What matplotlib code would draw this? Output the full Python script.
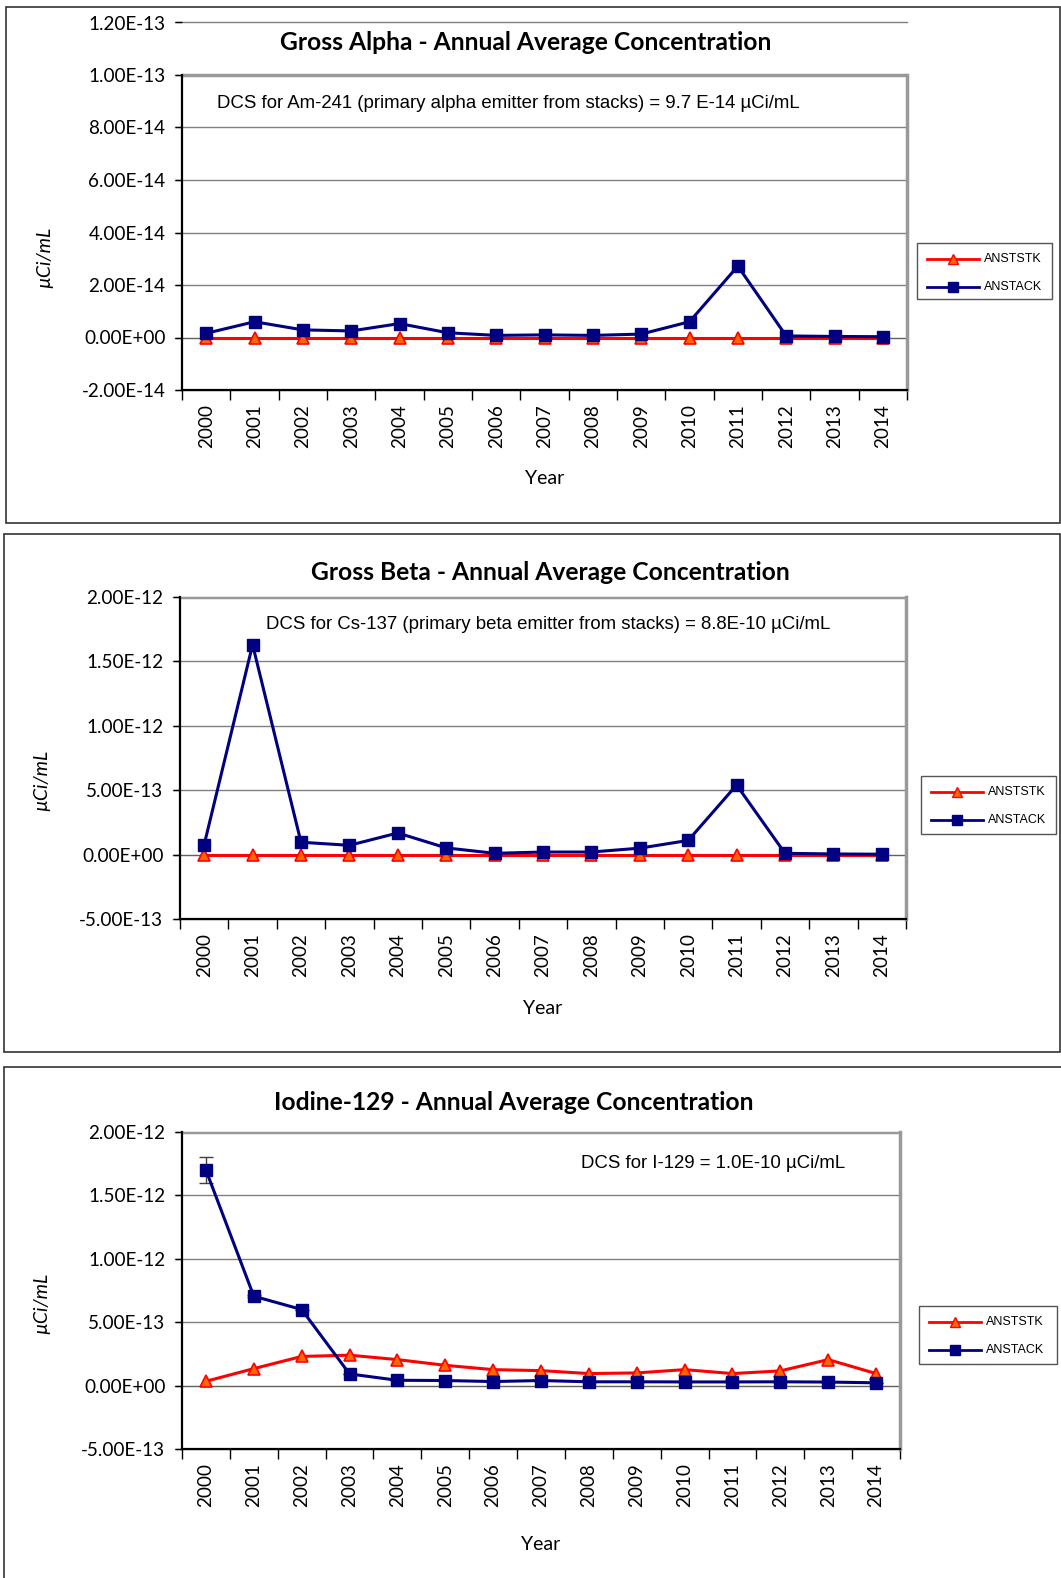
import matplotlib
matplotlib.use("Agg")
import matplotlib.pyplot as plt
from matplotlib.patches import Rectangle
from matplotlib.lines import Line2D

years = [str(y) for y in range(2000, 2015)]

# Gross Alpha (uCi/mL)
alpha_ststk = [0.0] * 15
alpha_stack = [1.6e-15, 6.0e-15, 2.9e-15, 2.5e-15, 5.3e-15, 1.8e-15, 0.8e-15, 1.0e-15,
               0.8e-15, 1.3e-15, 6.0e-15, 2.72e-14, 0.6e-15, 0.4e-15, 0.3e-15]

# Gross Beta (uCi/mL)
beta_ststk = [0.0] * 15
beta_stack = [7.8e-14, 1.63e-12, 9.6e-14, 7.2e-14, 1.68e-13, 5.2e-14, 1.0e-14, 2.0e-14,
              2.0e-14, 5.0e-14, 1.1e-13, 5.4e-13, 1.0e-14, 5.0e-15, 3.0e-15]

# Iodine-129 (uCi/mL)
iod_ststk = [3.4e-14, 1.34e-13, 2.3e-13, 2.4e-13, 2.05e-13, 1.6e-13, 1.26e-13, 1.18e-13,
             9.5e-14, 1.0e-13, 1.26e-13, 9.5e-14, 1.16e-13, 2.05e-13, 9.5e-14]
iod_stack = [1.70e-12, 7.05e-13, 6.0e-13, 9.2e-14, 4.2e-14, 4.0e-14, 3.2e-14, 4.0e-14,
             3.0e-14, 3.0e-14, 2.9e-14, 2.9e-14, 3.0e-14, 2.8e-14, 2.2e-14]
iod_stack_err = [1.0e-13, 1.0e-14, 0, 0, 0, 0, 0, 0, 0, 0, 0, 0, 0, 0, 0]

W, H = 1061, 1578
fig = plt.figure(figsize=(W / 100, H / 100), dpi=100)

CAL = ["Lato", "DejaVu Sans"]
ARI = ["Liberation Sans", "DejaVu Sans"]


def fx(x):
    return x / W


def fy(y):
    return 1 - y / H


def add_box(x0, y0, x1, y1):
    fig.patches.append(Rectangle((fx(x0), fy(y1)), fx(x1) - fx(x0), fy(y0) - fy(y1),
                                 transform=fig.transFigure, fill=False,
                                 edgecolor="#333333", linewidth=1.2, zorder=0))


def panel(box, ax_px, ymin, ymax, ytop_frame, fmt_ticks, title, title_y,
          note, note_xy, st, sk, sk_err, legend_px, ylabel_xy, year_y):
    add_box(*box)
    x0, y0, x1, y1 = ax_px
    ax = fig.add_axes([fx(x0), fy(y1), fx(x1) - fx(x0), fy(y0) - fy(y1)])
    ax.set_xlim(-0.5, 14.5)
    ax.set_ylim(ymin, ymax)
    ax.patch.set_alpha(0)
    ticks = fmt_ticks
    ax.set_yticks([t for t, _ in ticks])
    ax.set_yticklabels([l for _, l in ticks], fontfamily=CAL, fontsize=13.6)
    ax.set_xticks(range(15))
    ax.set_xticklabels(years, rotation=90, fontfamily=CAL, fontsize=13.6)
    ax.set_xticks([i - 0.5 for i in range(16)], minor=True)
    ax.tick_params(axis="x", which="major", length=0, pad=10)
    ax.tick_params(axis="x", which="minor", length=7, direction="out", width=1)
    ax.tick_params(axis="y", length=5, direction="out", width=1, pad=7)
    for t, _ in ticks:
        ax.axhline(t, xmin=-0.010, color="#808080" if t != 0 else "#606060",
                   linewidth=1.0, zorder=1, clip_on=False)
    ax.spines["top"].set_visible(False)
    ax.spines["left"].set_bounds(ymin, ytop_frame)
    ax.spines["right"].set_bounds(ymin, ytop_frame)
    ax.spines["left"].set_linewidth(1.6)
    ax.spines["left"].set_color("#000000")
    ax.spines["bottom"].set_linewidth(1.6)
    ax.spines["right"].set_color("#999999")
    ax.spines["right"].set_linewidth(2.5)
    ax.axhline(ytop_frame, color="#999999", linewidth=2.5, zorder=1)

    ax.plot(range(15), st, color="#FF0000", linewidth=2.2, marker="^",
            markersize=8.5, markerfacecolor="#FF6600", markeredgecolor="#FF0000",
            markeredgewidth=1.2, zorder=4, clip_on=False)
    ax.errorbar(range(15), sk, yerr=sk_err, color="#000080", linewidth=2.2,
                marker="s", markersize=9, markerfacecolor="#000080",
                markeredgecolor="#000080", ecolor="#404040", elinewidth=1,
                capsize=5, zorder=5, clip_on=False)

    fig.text(fx(title_y[0]), fy(title_y[1]), title, fontfamily=CAL, fontsize=17.7,
             fontweight="bold", ha="center", va="center")
    fig.text(fx(note_xy[0]), fy(note_xy[1]), note, fontfamily=ARI, fontsize=13.4,
             ha="left", va="center")
    fig.text(fx(ylabel_xy[0]), fy(ylabel_xy[1]), "µCi/mL", fontfamily=CAL,
             fontsize=14, style="italic", rotation=90, ha="center", va="center")
    fig.text(fx((x0 + x1) / 2), fy(year_y), "Year", fontfamily=CAL, fontsize=14,
             ha="center", va="center")

    lx0, ly0, lx1, ly1 = legend_px
    fig.patches.append(Rectangle((fx(lx0), fy(ly1)), fx(lx1) - fx(lx0), fy(ly0) - fy(ly1),
                                 transform=fig.transFigure, fill=False,
                                 edgecolor="#555555", linewidth=1.0))
    for i, (lab, c, m, mfc) in enumerate([("ANSTSTK", "#FF0000", "^", "#FF6600"),
                                          ("ANSTACK", "#000080", "s", "#000080")]):
        yy = ly0 + 16 + i * 28
        fig.lines.append(Line2D([fx(lx0 + 10), fx(lx0 + 62)], [fy(yy), fy(yy)],
                                transform=fig.transFigure, color=c, linewidth=2))
        fig.lines.append(Line2D([fx(lx0 + 36)], [fy(yy)], transform=fig.transFigure,
                                marker=m, markersize=7, markerfacecolor=mfc,
                                markeredgecolor=c, linestyle="none"))
        fig.text(fx(lx0 + 67), fy(yy), lab, fontfamily=ARI, fontsize=9,
                 ha="left", va="center")
    return ax


# Panel 1
panel(box=(6, 7, 1060, 523), ax_px=(182, 22.5, 907, 390),
      ymin=-2e-14, ymax=1.2e-13, ytop_frame=1e-13,
      fmt_ticks=[(-2e-14, "-2.00E-14"), (0, "0.00E+00"), (2e-14, "2.00E-14"),
                 (4e-14, "4.00E-14"), (6e-14, "6.00E-14"), (8e-14, "8.00E-14"),
                 (1e-13, "1.00E-13"), (1.2e-13, "1.20E-13")],
      title="Gross Alpha - Annual Average Concentration", title_y=(526, 42),
      note="DCS for Am-241 (primary alpha emitter from stacks) = 9.7 E-14 µCi/mL",
      note_xy=(217, 103),
      st=alpha_ststk, sk=alpha_stack, sk_err=None,
      legend_px=(917, 243, 1052, 299), ylabel_xy=(45, 257), year_y=478)

# Panel 2
panel(box=(4, 534, 1060, 1052), ax_px=(180, 597, 906, 919),
      ymin=-5e-13, ymax=2e-12, ytop_frame=2e-12,
      fmt_ticks=[(-5e-13, "-5.00E-13"), (0, "0.00E+00"), (5e-13, "5.00E-13"),
                 (1e-12, "1.00E-12"), (1.5e-12, "1.50E-12"), (2e-12, "2.00E-12")],
      title="Gross Beta - Annual Average Concentration", title_y=(550, 572),
      note="DCS for Cs-137 (primary beta emitter from stacks) = 8.8E-10 µCi/mL",
      note_xy=(266, 624),
      st=beta_ststk, sk=beta_stack, sk_err=None,
      legend_px=(921, 776, 1056, 834), ylabel_xy=(42, 780), year_y=1008)

# Panel 3
panel(box=(4, 1067, 1075, 1600), ax_px=(182, 1132, 900, 1449),
      ymin=-5e-13, ymax=2e-12, ytop_frame=2e-12,
      fmt_ticks=[(-5e-13, "-5.00E-13"), (0, "0.00E+00"), (5e-13, "5.00E-13"),
                 (1e-12, "1.00E-12"), (1.5e-12, "1.50E-12"), (2e-12, "2.00E-12")],
      title="Iodine-129 - Annual Average Concentration", title_y=(514, 1102),
      note="DCS for I-129 = 1.0E-10 µCi/mL",
      note_xy=(581, 1163),
      st=iod_ststk, sk=iod_stack, sk_err=iod_stack_err,
      legend_px=(919, 1306, 1057, 1364), ylabel_xy=(42, 1303), year_y=1545)

fig.savefig("out.png", dpi=100)
